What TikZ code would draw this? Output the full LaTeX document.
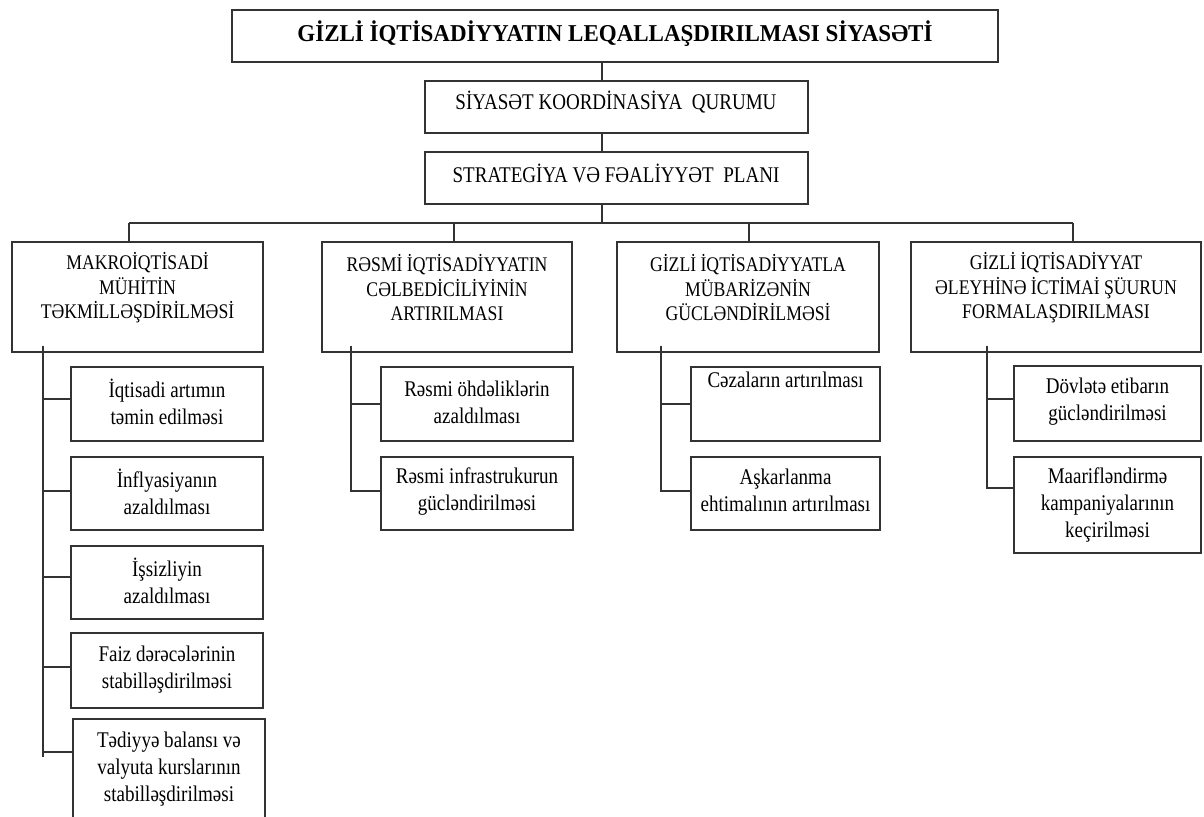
\documentclass[tikz,border=0pt]{standalone}
\usepackage{fontspec}
\setmainfont[FakeStretch=0.85]{Liberation Serif}
\newfontfamily\ttlfont[FakeStretch=0.95]{Liberation Serif}
\begin{document}
\begin{tikzpicture}[x=0.5pt,y=-0.5pt,
  bx/.style={draw=black!80,line width=0.65pt,rectangle,inner sep=0pt},
  ln/.style={draw=black!80,line width=0.6pt},
  ttl/.style={inner sep=0pt,align=center,font=\ttlfont\fontsize{12.1}{14}\selectfont\bfseries},
  tmid/.style={inner sep=0pt,align=center,font=\fontsize{11.2}{13.5}\selectfont},
  tcap/.style={inner sep=0pt,align=center,font=\fontsize{10.4}{12.25}\selectfont},
  tsub/.style={inner sep=0pt,align=center,font=\fontsize{11.2}{13.5}\selectfont}]
\useasboundingbox (0,0) rectangle (1204,817);
\clip (0,0) rectangle (1204,817);
\fill[white] (0,0) rectangle (1204,817);

% top chain
\node[bx,minimum width=383pt,minimum height=26pt] (T) at (615,36) {};
\node[ttl] (Tt) at (615,34) {GİZLİ İQTİSADİYYATIN LEQALLAŞDIRILMASI SİYASƏTİ};
\node[bx,minimum width=191.5pt,minimum height=26pt] (K) at (616.5,107) {};
\node[tmid] (Kt) at (616,102) {SİYASƏT KOORDİNASİYA\ \ QURUMU};
\node[bx,minimum width=191.5pt,minimum height=26pt] (S) at (616.5,178) {};
\node[tmid] (St) at (616,173) {STRATEGİYA VƏ FƏALİYYƏT\ \ PLANI};

\coordinate (j0) at (602,223);
\draw[ln] (T.south -| j0) -- (K.north -| j0);
\draw[ln] (K.south -| j0) -- (S.north -| j0);
\draw[ln] (S.south -| j0) -- (j0);

% level 2
\node[bx,minimum width=125.5pt,minimum height=55pt] (M) at (137.5,297) {};
\node[tcap] (Mt) at (137.5,288) {MAKROİQTİSADİ\\MÜHİTİN\\TƏKMİLLƏŞDİRİLMƏSİ};
\node[bx,minimum width=125pt,minimum height=55pt] (R) at (447,297) {};
\node[tcap] (Rt) at (447,288) {RƏSMİ İQTİSADİYYATIN\\CƏLBEDİCİLİYİNİN\\ARTIRILMASI};
\node[bx,minimum width=131pt,minimum height=55pt] (G) at (748,297) {};
\node[tcap] (Gt) at (748,288) {GİZLİ İQTİSADİYYATLA\\MÜBARİZƏNİN\\GÜCLƏNDİRİLMƏSİ};
\node[bx,minimum width=145pt,minimum height=55pt] (F) at (1056,297) {};
\node[tcap] (Ft) at (1056,288) {GİZLİ İQTİSADİYYAT\\ƏLEYHİNƏ İCTİMAİ ŞÜURUN\\FORMALAŞDIRILMASI};

\coordinate (jm) at (129,223);
\coordinate (jr) at (454,223);
\coordinate (jg) at (749,223);
\coordinate (jf) at (1073,223);
\draw[ln] (jm) -- (jf);
\draw[ln] (jm) -- (jm |- M.north);
\draw[ln] (jr) -- (jr |- R.north);
\draw[ln] (jg) -- (jg |- G.north);
\draw[ln] (jf) -- (jf |- F.north);

% column M
\node[bx,minimum width=96pt,minimum height=37pt] (m1) at (167,404) {};
\node[tsub] (m1t) at (167,401.5) {İqtisadi artımın\\təmin edilməsi};
\node[bx,minimum width=96pt,minimum height=36.5pt] (m2) at (167,493.5) {};
\node[tsub] (m2t) at (167,491.5) {İnflyasiyanın\\azaldılması};
\node[bx,minimum width=96pt,minimum height=36.5pt] (m3) at (167,582.5) {};
\node[tsub] (m3t) at (167,581) {İşsizliyin\\azaldılması};
\node[bx,minimum width=96pt,minimum height=37.5pt] (m4) at (167,670.5) {};
\node[tsub] (m4t) at (167,670) {Faiz dərəcələrinin\\stabilləşdirilməsi};
\node[bx,minimum width=96pt,minimum height=50.5pt] (m5) at (169,769.5) {};
\node[tsub] (m5t) at (169,769) {Tədiyyə balansı və\\valyuta kurslarının\\stabilləşdirilməsi};

\coordinate (mt0) at (43,346);
\coordinate (mt1) at (43,757);
\draw[ln] (mt0) -- (mt1);
\path ([yshift=2.5pt]m1.west) coordinate (m1w);
\path ([yshift=1.25pt]m2.west) coordinate (m2w);
\path ([yshift=2.75pt]m3.west) coordinate (m3w);
\path ([yshift=1.75pt]m4.west) coordinate (m4w);
\path ([yshift=8.75pt]m5.west) coordinate (m5w);
\foreach \w in {m1w,m2w,m3w,m4w,m5w}{\draw[ln] (\w -| mt0) -- (\w);}

% column R
\node[bx,minimum width=96pt,minimum height=37pt] (r1) at (477,404) {};
\node[tsub] (r1t) at (477,402) {Rəsmi öhdəliklərin\\azaldılması};
\node[bx,minimum width=96pt,minimum height=36.5pt] (r2) at (477,493.5) {};
\node[tsub] (r2t) at (477,491.5) {Rəsmi infrastrukurun\\gücləndirilməsi};
\coordinate (rt0) at (351,346);
\path ([yshift=1.25pt]r2.west) coordinate (r2w);
\draw[ln] (rt0) |- (r2w);
\draw[ln] (r1.west -| rt0) -- (r1.west);

% column G
\node[bx,minimum width=94.5pt,minimum height=37pt] (g1) at (785.5,404) {};
\node[tsub] (g1t) at (785.5,380) {Cəzaların artırılması};
\node[bx,minimum width=94.5pt,minimum height=36.5pt] (g2) at (785.5,493.5) {};
\node[tsub] (g2t) at (785.5,490.5) {Aşkarlanma\\ehtimalının artırılması};
\coordinate (gt0) at (661,346);
\path ([yshift=1.25pt]g2.west) coordinate (g2w);
\draw[ln] (gt0) |- (g2w);
\draw[ln] (g1.west -| gt0) -- (g1.west);

% column F
\node[bx,minimum width=93.5pt,minimum height=37.5pt] (f1) at (1107.5,403.5) {};
\node[tsub] (f1t) at (1107.5,401.5) {Dövlətə etibarın\\gücləndirilməsi};
\node[bx,minimum width=93.5pt,minimum height=48pt] (f2) at (1107.5,505) {};
\node[tsub] (f2t) at (1107.5,505) {Maarifləndirmə\\kampaniyalarının\\keçirilməsi};
\coordinate (ft0) at (987,346);
\path ([yshift=2.25pt]f1.west) coordinate (f1w);
\path ([yshift=8.5pt]f2.west) coordinate (f2w);
\draw[ln] (ft0) |- (f2w);
\draw[ln] (f1w -| ft0) -- (f1w);
\end{tikzpicture}
\end{document}
